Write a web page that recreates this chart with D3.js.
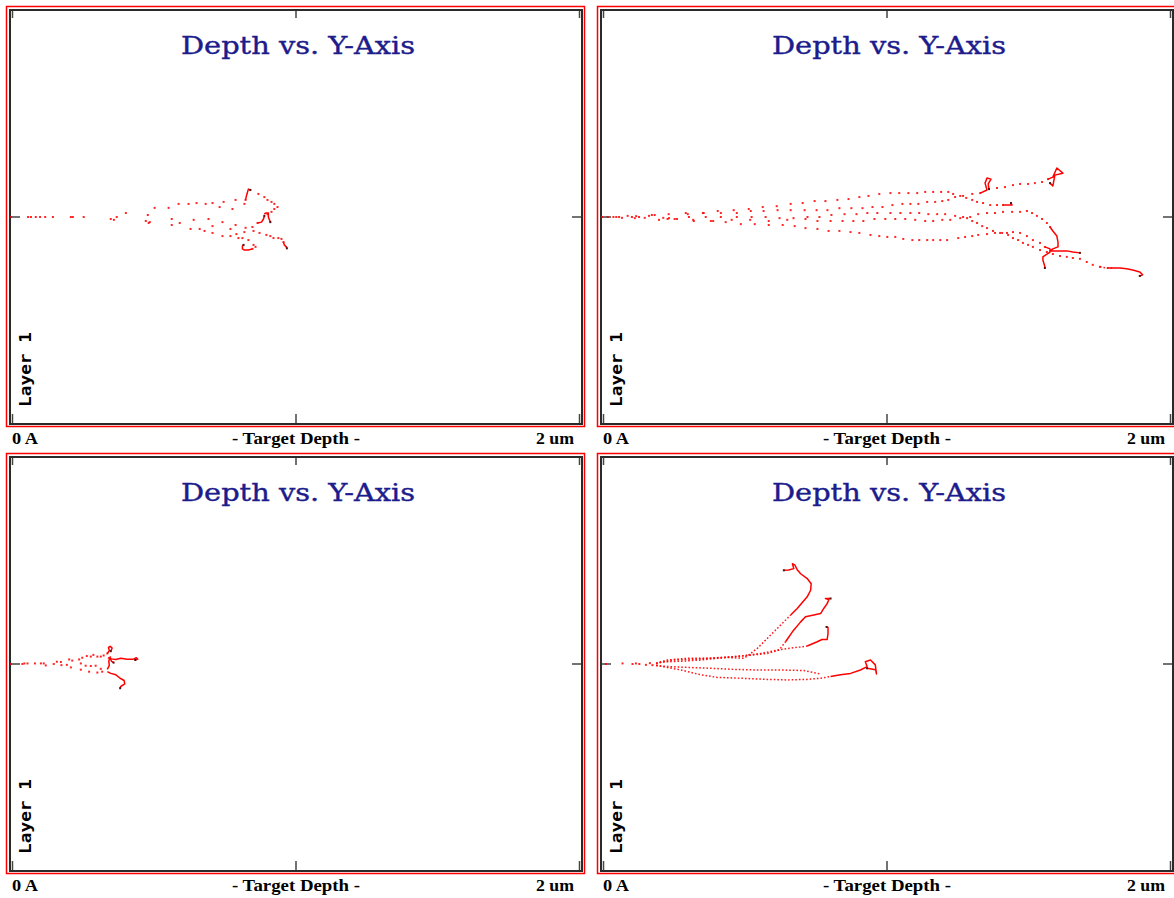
<!DOCTYPE html>
<html>
<head>
<meta charset="utf-8">
<script src="https://cdn.jsdelivr.net/npm/d3@7"></script>
<style>
  body { margin: 0; background: #fff; }
  svg { display: block; }
</style>
</head>
<body>
<svg id="chart"></svg>
<script>
// Texts
const chartTitle = "Depth vs. Y-Axis";
const axisLabels = ["0 A", "- Target Depth -", "2 um"];
const layerLabel = "Layer 1";

// Axis domain (nm): depth 0 .. 2 um, lateral Y symmetric around 0
const depthDomain = [0, 2000];
const lateralDomain = [-727, 727];
const depthTicks = [0, 1000, 2000];

// Collision dots [depth nm, y nm], dense dotted trails and end tails (polylines) per panel
const dotsTopLeft = [
  [0,0],[70,0],[147,0],[255,0],[403,14],[504,32],[588,46],[651,49],[707,49],[746,53],[788,60],[823,60],
  [102,0],[217,0],[371,0],[480,7],[553,32],[623,46],[683,46],[732,35],[777,28],[819,46],[868,81],[889,70],[900,60],[914,53],[924,46],[935,35],[924,28],[914,18],[900,10],
  [60,0],[361,-10],[487,-18],[564,-7],[592,-21],[641,-10],[693,-7],[742,-18],[788,-28],[823,-38],[847,-35],[865,-21],
  [87,0],[210,0],[473,-14],[564,-28],[630,-42],[662,-42],[679,-49],[707,-56],[742,-67],[770,-67],[791,-60],[798,-74],[812,-74],[833,-81],[851,-98],[858,-105],[847,-112],
  [120,0],[350,-7],[483,-21],[707,-32],[770,-42],[819,-53],[851,-49],[872,-56],[896,-63],[910,-67],[921,-74],[938,-74],[949,-77],[956,-88]
];
const tailsTopLeft = [
  [[823,60],[826,74],[830,88],[833,98],[840,95]],
  [[889,10],[893,14],[903,14],[903,0],[910,-18]],
  [[865,-21],[879,-18],[886,-7],[889,4]],
  [[847,-112],[833,-116],[819,-116],[812,-112],[812,-102],[816,-98]],
  [[956,-88],[959,-98],[966,-105],[968,-110]]
];

const dotsTopRight = [
  [0,0],[60,0],[120,3],[175,7],[234,10],[294,14],[354,14],[406,21],[462,24],[515,28],[564,35],[613,38],[662,46],[704,49],[746,56],[784,56],[826,60],[865,63],[903,70],[935,74],[973,81],[1012,84],[1043,84],[1075,84],[1106,84],[1134,88],[1162,88],[1190,88],[1215,88],[1232,81],[1257,74],[1278,67],[1299,60],[1316,53],[1337,49],[1362,42],[1386,42],[1407,42],
  [20,0],[90,4],[150,-3],[215,-3],[301,10],[357,14],[417,14],[473,14],[522,21],[567,21],[616,24],[662,24],[711,24],[753,24],[791,24],[833,31],[875,31],[914,31],[949,35],[984,35],[1019,42],[1054,46],[1082,46],[1110,46],[1141,53],[1169,53],[1194,56],[1215,60],[1239,70],[1267,74],[1299,81],[1327,84],
  [1386,102],[1414,105],[1442,112],[1467,116],[1495,116],[1519,119],[1544,123],[1565,133],
  [40,0],[105,0],[165,4],[230,-7],[305,0],[364,0],[417,0],[473,0],[525,0],[574,0],[623,-4],[672,-4],[721,0],[763,0],[805,7],[851,10],[893,10],[931,14],[966,14],[1012,14],[1047,14],[1082,14],[1113,14],[1145,10],[1176,10],[1204,10],[1239,4],[1267,0],[1292,0],[1320,10],[1351,14],[1379,14],[1407,18],[1439,18],[1467,18],[1491,21],[1509,14],[1526,4],[1544,-7],[1561,-21],[1572,-35],
  [70,-3],[130,0],[200,-10],[255,-7],[320,-10],[390,-14],[455,-10],[520,-10],[585,-14],[650,-10],[714,-7],[756,-14],[802,-14],[844,-14],[882,-14],[917,-14],[956,-7],[994,-7],[1029,-7],[1064,-7],[1099,-10],[1134,-14],[1162,-14],[1194,-10],[1222,-10],[1257,-4],[1281,-4],[1299,-14],[1316,-21],[1334,-32],[1351,-39],[1372,-49],[1397,-56],[1421,-56],[1442,-53],[1467,-56],[1491,-67],[1512,-81],[1537,-91],[1554,-105],
  [50,0],[115,-4],[185,7],[235,-4],[263,-7],[322,-14],[382,-14],[434,-18],[487,-25],[536,-25],[585,-28],[634,-28],[676,-32],[714,-39],[756,-42],[795,-49],[833,-49],[872,-53],[903,-56],[942,-63],[973,-67],[1001,-70],[1029,-70],[1057,-77],[1089,-81],[1113,-81],[1141,-81],[1162,-81],[1187,-81],[1211,-81],[1250,-74],[1274,-70],[1299,-67],[1320,-63],[1351,-60],[1379,-56],[1404,-56],[1425,-63],[1442,-74],[1460,-81],[1477,-91],[1495,-98],[1512,-105],[1537,-116],[1561,-123],[1582,-130],[1607,-137],[1631,-140],[1652,-144],[1677,-147],[1701,-158],[1722,-168],[1747,-175]
];
const tailsTopRight = [
  [[1407,42],[1425,42],[1439,42],[1435,49]],
  [[1327,84],[1351,95],[1344,119],[1351,137],[1365,133],[1355,116],[1358,98]],
  [[1565,133],[1582,140],[1596,172],[1617,154],[1589,147],[1582,109],[1572,119]],
  [[1572,-35],[1582,-49],[1596,-67],[1600,-88],[1600,-105],[1582,-112],[1572,-119],[1596,-119],[1631,-119],[1652,-123],[1677,-126]],
  [[1554,-105],[1572,-112],[1572,-123],[1547,-140],[1547,-151],[1554,-175],[1554,-179]],
  [[1771,-179],[1792,-179],[1817,-179],[1841,-182],[1862,-186],[1887,-193],[1897,-203],[1887,-207]]
];
const trailsTopRight = [
  [[1747,-175],[1771,-179],[1792,-179]]
];

const dotsBottomLeft = [
  [0,0],[47,2],[105,2],[161,8],[204,16],[239,16],[266,28],[289,32],[315,26],[338,37],
  [58,2],[115,2],[175,7],[215,12],[250,22],[280,26],[303,26],[325,30],
  [84,2],[150,0],[196,-3],[245,2],[262,-6],[280,-7],[297,-6],[315,-17],
  [40,0],[122,-5],[177,-4],[210,-12],[245,-20],[274,-27],[303,-30],[320,-27]
];
const tailsBottomLeft = [
  [[338,37],[345,47],[342,58],[348,62],[355,56],[350,45]],
  [[340,22],[352,18],[368,16],[385,20],[408,17],[429,17],[440,22],[445,17],[436,14]],
  [[338,-27],[350,-33],[368,-38],[383,-50],[397,-58],[399,-70],[385,-79],[383,-85]],
  [[338,-19],[345,-5],[343,10],[348,25],[352,10],[360,5]]
];

const dotsBottomRight = [
  [14,0],[72,2],[107,0],[119,2],[131,0],[154,-3],[168,3],[177,-4]
];
const trailsBottomRight = [
  [[190,3],[230,14],[300,20],[370,20],[440,23],[498,20],[522,37],[545,55],[568,78],[592,102],[615,125],[638,148],[662,172]],
  [[190,3],[250,14],[330,17],[400,22],[463,26],[522,31],[580,37],[621,49],[644,78]],
  [[190,0],[210,7],[280,10],[347,14],[405,20],[487,28],[557,37],[615,49],[673,57],[720,63]],
  [[190,-5],[230,-9],[300,-12],[382,-15],[463,-19],[545,-21],[627,-21],[708,-23],[767,-35]],
  [[190,-5],[277,-21],[347,-38],[405,-47],[487,-50],[580,-54],[650,-56],[720,-54],[767,-50],[802,-44]]
];
const tailsBottomRight = [
  [[662,172],[685,195],[702,215],[720,236],[732,259],[734,282],[720,300],[697,317],[685,331],[677,347],[668,352],[673,335],[655,330],[638,329]],
  [[644,78],[668,113],[697,148],[714,166],[743,172],[767,177],[778,195],[790,212],[796,226],[784,230],[802,230]],
  [[720,63],[755,78],[772,86],[790,86],[793,107],[793,128],[788,130]],
  [[802,-44],[837,-38],[872,-33],[907,-21],[930,-9],[924,8],[942,14],[959,-3],[963,-35],[960,-20],[930,-15]]
];

// Panel layout (plot frame corner, size)
const frameW = 572, frameH = 414;
const panels = [
  { x: 10,  y: 10,  dots: dotsTopLeft,     trails: [],                tails: tailsTopLeft },
  { x: 601, y: 10,  dots: dotsTopRight,    trails: trailsTopRight,    tails: tailsTopRight },
  { x: 10,  y: 457, dots: dotsBottomLeft,  trails: [],                tails: tailsBottomLeft },
  { x: 601, y: 457, dots: dotsBottomRight, trails: trailsBottomRight, tails: tailsBottomRight }
];

const svg = d3.select("#chart")
  .attr("width", 1174)
  .attr("height", 898);

svg.append("rect").attr("width", 1174).attr("height", 898).attr("fill", "#fff");

panels.forEach(p => {
  const g = svg.append("g");

  const x = d3.scaleLinear().domain(depthDomain).range([p.x + 1, p.x + frameW - 1]);
  const y = d3.scaleLinear().domain(lateralDomain).range([p.y + frameH, p.y]);

  // red outer border
  g.append("rect")
    .attr("x", p.x - 3.5).attr("y", p.y - 3.5)
    .attr("width", frameW + 6).attr("height", frameH + 6)
    .attr("fill", "none").attr("stroke", "#ff0000").attr("stroke-width", 1.5);

  // plot frame
  g.append("rect")
    .attr("x", p.x).attr("y", p.y)
    .attr("width", frameW).attr("height", frameH)
    .attr("fill", "#fff").attr("stroke", "#2a2a2a").attr("stroke-width", 2);

  // ticks
  const tickX = v => Math.min(Math.max(x(v), p.x + 2.5), p.x + frameW - 2.5);
  depthTicks.forEach(v => {
    g.append("line")
      .attr("x1", tickX(v)).attr("x2", tickX(v))
      .attr("y1", p.y + 1).attr("y2", p.y + 8)
      .attr("stroke", "#444").attr("stroke-width", 1.5);
    g.append("line")
      .attr("x1", tickX(v)).attr("x2", tickX(v))
      .attr("y1", p.y + frameH - 1).attr("y2", p.y + frameH - 10)
      .attr("stroke", "#444").attr("stroke-width", 1.5);
  });
  g.append("line")
    .attr("x1", p.x + 1).attr("x2", p.x + 10)
    .attr("y1", y(0)).attr("y2", y(0))
    .attr("stroke", "#444").attr("stroke-width", 1.5);
  g.append("line")
    .attr("x1", p.x + frameW - 1).attr("x2", p.x + frameW - 10)
    .attr("y1", y(0)).attr("y2", y(0))
    .attr("stroke", "#444").attr("stroke-width", 1.5);

  // title
  g.append("text")
    .attr("x", p.x + 171).attr("y", p.y + 44)
    .attr("textLength", 234)
    .attr("lengthAdjust", "spacingAndGlyphs")
    .style("font-family", "'DejaVu Serif', serif")
    .style("font-size", "25px")
    .attr("fill", "#1c1c8c")
    .attr("stroke", "#1c1c8c")
    .attr("stroke-width", 0.4)
    .text(chartTitle);

  // layer label
  g.append("text")
    .attr("transform", `translate(${p.x + 21},${p.y + 397}) rotate(-90)`)
    .attr("textLength", 75)
    .attr("lengthAdjust", "spacingAndGlyphs")
    .style("font-family", "'DejaVu Sans Mono', monospace")
    .style("font-weight", "bold")
    .style("font-size", "15px")
    .attr("fill", "#000")
    .text(layerLabel);

  // bottom labels
  const labelY = p.y + frameH + 20;
  const labelX = [p.x + 2, x(1000) - 64, p.x + frameW - 46];
  const labelLen = [26, 128, 38];
  axisLabels.forEach((t, i) => {
    g.append("text")
      .attr("x", labelX[i]).attr("y", labelY)
      .attr("textLength", labelLen[i])
      .attr("lengthAdjust", "spacingAndGlyphs")
      .style("font-family", "'Liberation Serif', 'Times New Roman', serif")
      .style("font-weight", "bold")
      .style("font-size", "17px")
      .attr("fill", "#000")
      .text(t);
  });

  const line = d3.line().x(d => x(d[0])).y(d => y(d[1]));

  // dense dotted parts of trajectories
  g.selectAll(".trail")
    .data(p.trails)
    .enter()
    .append("path")
    .attr("class", "trail")
    .attr("d", line)
    .attr("fill", "none")
    .attr("stroke", "#ff0000")
    .attr("stroke-width", 1.5)
    .attr("stroke-dasharray", "1.6 2")
    .attr("opacity", 0.9);

  // ion tails
  g.selectAll(".tail")
    .data(p.tails)
    .enter()
    .append("path")
    .attr("class", "tail")
    .attr("d", line)
    .attr("fill", "none")
    .attr("stroke", "#ff0000")
    .attr("stroke-width", 1.5)
    .attr("stroke-linejoin", "round");

  // collision dots
  g.selectAll(".dot")
    .data(p.dots)
    .enter()
    .append("rect")
    .attr("class", "dot")
    .attr("x", d => x(d[0]) - 1)
    .attr("y", d => y(d[1]) - 1)
    .attr("width", 2).attr("height", 2)
    .attr("fill", "#ff0000")
    .attr("opacity", 0.85);

  // final stop of each ion
  g.selectAll(".stop")
    .data(p.tails)
    .enter()
    .append("rect")
    .attr("class", "stop")
    .attr("x", d => x(d[d.length - 1][0]) - 1)
    .attr("y", d => y(d[d.length - 1][1]) - 1)
    .attr("width", 2).attr("height", 2)
    .attr("fill", "#551111");
});
</script>
</body>
</html>
